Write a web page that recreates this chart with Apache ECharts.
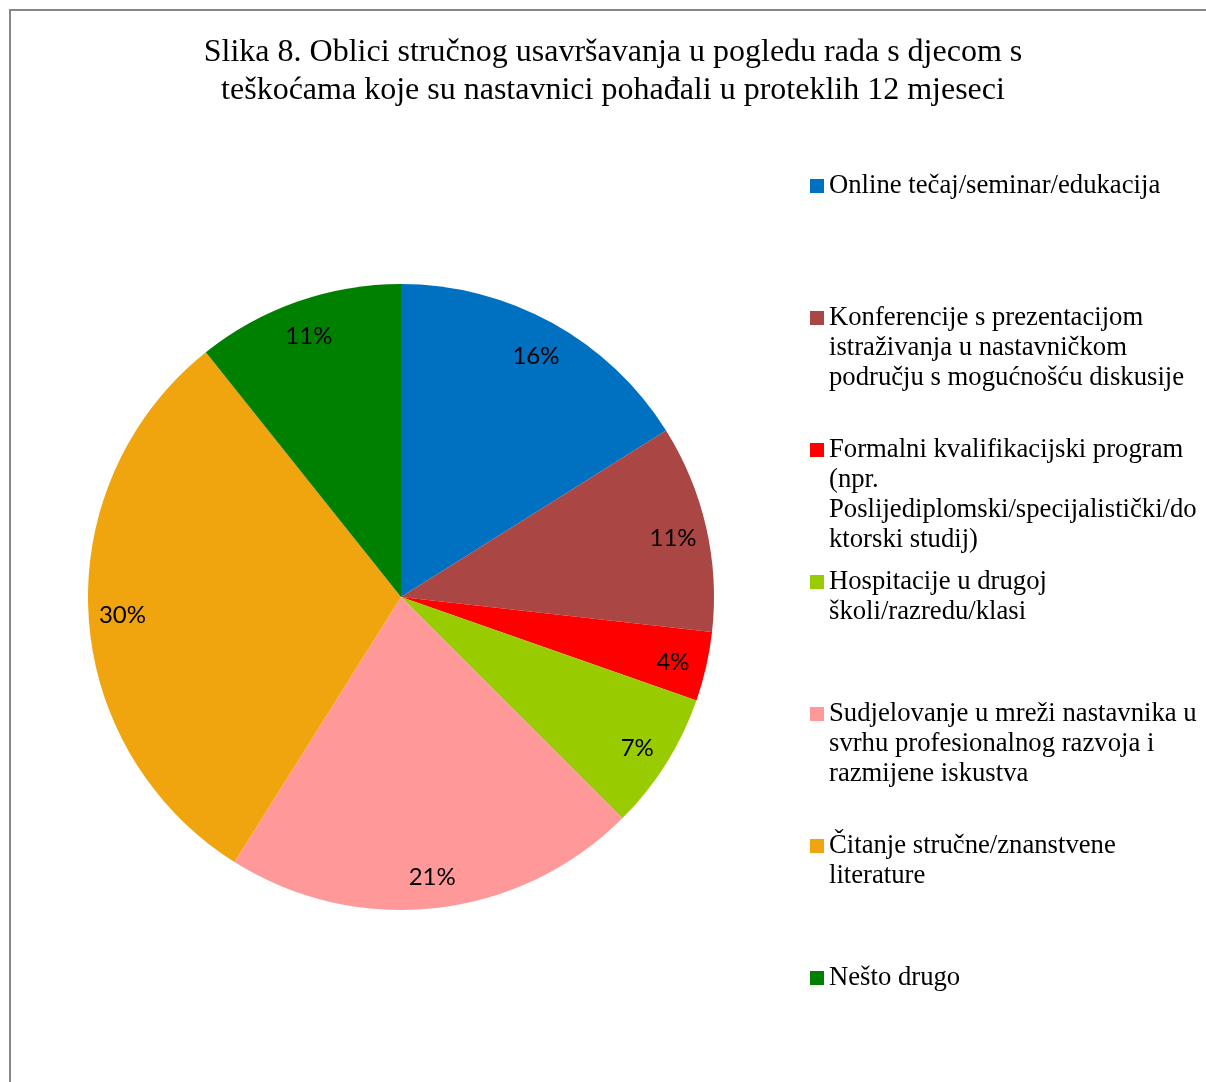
<!DOCTYPE html>
<html>
<head>
<meta charset="utf-8">
<script src="https://cdn.jsdelivr.net/npm/echarts@6/dist/echarts.min.js"></script>
<style>
  html, body { margin: 0; padding: 0; background: #fff; }
  #chart { width: 1206px; height: 1082px; }
</style>
</head>
<body>
<div id="chart"></div>
<script>
const titleText = 'Slika 8. Oblici stručnog usavršavanja u pogledu rada s djecom s\nteškoćama koje su nastavnici pohađali u proteklih 12 mjeseci';

const categories = [
  'Online tečaj/seminar/edukacija',
  'Konferencije s prezentacijom istraživanja u nastavničkom području s mogućnošću diskusije',
  'Formalni kvalifikacijski program (npr. Poslijediplomski/specijalistički/doktorski studij)',
  'Hospitacije u drugoj školi/razredu/klasi',
  'Sudjelovanje u mreži nastavnika u svrhu profesionalnog razvoja i razmijene iskustva',
  'Čitanje stručne/znanstvene literature',
  'Nešto drugo'
];

const legendLabels = [
  'Online tečaj/seminar/edukacija',
  'Konferencije s prezentacijom\nistraživanja u nastavničkom\npodručju s mogućnošću diskusije',
  'Formalni kvalifikacijski program\n(npr.\nPoslijediplomski/specijalistički/do\nktorski studij)',
  'Hospitacije u drugoj\nškoli/razredu/klasi',
  'Sudjelovanje u mreži nastavnika u\nsvrhu profesionalnog razvoja i\nrazmijene iskustva',
  'Čitanje stručne/znanstvene\nliterature',
  'Nešto drugo'
];

const counts = [9, 6, 2, 4, 12, 17, 6];

const colors = ['#0070C0', '#AA4644', '#FF0000', '#99CC00', '#FF9999', '#F0A50E', '#008000'];

const pieData = categories.map((c, i) => ({ name: c, value: counts[i], itemStyle: { color: colors[i] } }));
const labelData = categories.map((c, i) => ({ name: c, value: counts[i] }));

const LINE_H = 30;
const legends = categories.map((c, i) => {
  const n = legendLabels[i].split('\n').length;
  return {
    data: [c],
    orient: 'vertical',
    left: 810,
    top: 186 + 132 * i - (2 * n - 1) * LINE_H / 2,
    padding: 0,
    itemGap: 0,
    itemWidth: 14,
    itemHeight: 14,
    icon: 'rect',
    selectedMode: false,
    // blank lines above keep the first text line level with the marker
    formatter: () => '\n'.repeat(n - 1) + legendLabels[i],
    textStyle: {
      fontFamily: 'Liberation Serif',
      fontSize: 26.7,
      lineHeight: LINE_H,
      color: '#000'
    }
  };
});

const chart = echarts.init(document.getElementById('chart'));
chart.setOption({
  animation: false,
  backgroundColor: '#fff',
  title: {
    text: titleText,
    left: 608,
    top: 29,
    textAlign: 'center',
    textStyle: {
      fontFamily: 'Liberation Serif',
      fontSize: 32,
      fontWeight: 'normal',
      lineHeight: 38,
      color: '#000'
    }
  },
  legend: legends,
  graphic: [{
    type: 'rect',
    shape: { x: 10, y: 10, width: 1400, height: 1300 },
    style: { fill: 'none', stroke: '#878787', lineWidth: 2 },
    silent: true,
    z: 100
  }],
  series: [
    {
      type: 'pie',
      center: [401, 597],
      radius: 313,
      startAngle: 90,
      clockwise: true,
      label: { show: false },
      labelLine: { show: false },
      itemStyle: { borderWidth: 0 },
      emphasis: { disabled: true },
      data: pieData
    },
    {
      type: 'pie',
      center: [401, 597],
      radius: 552,
      startAngle: 90,
      clockwise: true,
      silent: true,
      z: 3,
      itemStyle: { color: 'rgba(0,0,0,0)', borderWidth: 0 },
      emphasis: { disabled: true },
      labelLine: { show: false },
      label: {
        show: true,
        position: 'inside',
        offset: [0, 3],
        formatter: p => Math.round(p.percent) + '%',
        fontFamily: 'Lato',
        fontSize: 24,
        color: '#000'
      },
      data: labelData
    }
  ]
});
</script>
</body>
</html>
